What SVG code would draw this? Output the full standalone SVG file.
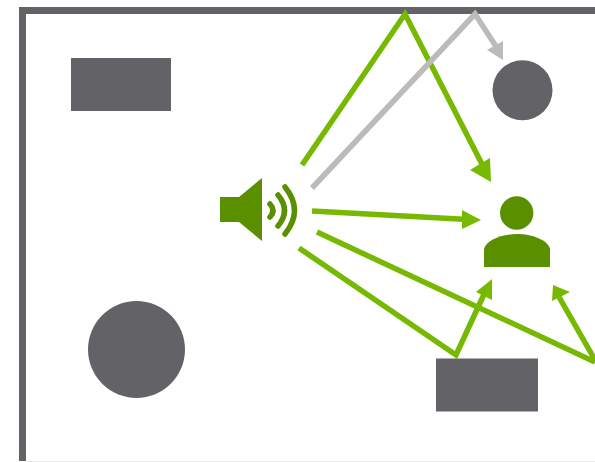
<svg xmlns="http://www.w3.org/2000/svg" width="595" height="462" viewBox="0 0 595 462">
<style>
.obj{fill:#636267}
.src{fill:#5a8f00}
.g{fill:none;stroke:#76b900;stroke-width:5.500}
.h{fill:none;stroke:#bbbbbb;stroke-width:5.500}
.ah{fill:#76b900}
.ahg{fill:#bbbbbb}
.w{fill:none;stroke:#5a8f00;stroke-width:5.500;stroke-linecap:round}
</style>
<rect width="595" height="462" fill="#fff"/>
<g id="room"><path d="M22.500 461V10.500H595" fill="none" stroke="#636267" stroke-width="7"/><path d="M26 461.500H595" fill="none" stroke="#e4e4e4" stroke-width="1"/></g>
<g id="box-top-left"><rect class="obj" x="71" y="58" width="100" height="53"/></g>
<g id="circle-top-right"><circle class="obj" cx="522.500" cy="90.300" r="30"/></g>
<g id="circle-bottom-left"><circle class="obj" cx="136.500" cy="349.500" r="48.500"/></g>
<g id="box-bottom-right"><rect class="obj" x="436" y="358.500" width="102" height="53"/></g>
<g id="speaker">
<path class="src" d="M220 197H239L262 178V241L239 222H220Z"/>
<path class="w" d="M270 204Q276 210.500 270 217"/>
<path class="w" d="M278 195Q291 210.500 278 226"/>
<path class="w" d="M285 187Q304 210.500 285 234"/>
</g>
<g id="listener">
<circle class="src" cx="516.700" cy="213" r="16.700"/>
<path class="src" d="M484 267V249C486 240 502 234 517 234C532 234 548 240 550 249V267Z"/>
</g>
<g id="connectors">
<path class="g" d="M302 165L405 14L485 170"/>
<polygon class="ah" points="491,182 470,170 490,158"/>
<path class="g" d="M312 211L468 219.500"/>
<polygon class="ah" points="481,220 462,210 462,229"/>
<path class="g" d="M299 248L456 355L486 290"/>
<polygon class="ah" points="492,279 476,292 492,300"/>
<path class="g" d="M317 232L595 362"/>
<path class="g" d="M595 360L559 297"/>
<polygon class="ah" points="553,285 552,301 570,292"/>
<path class="h" d="M312 188L475 14L497 48"/>
<polygon class="ahg" points="503,60 487,50 503,41"/>
</g>
</svg>
